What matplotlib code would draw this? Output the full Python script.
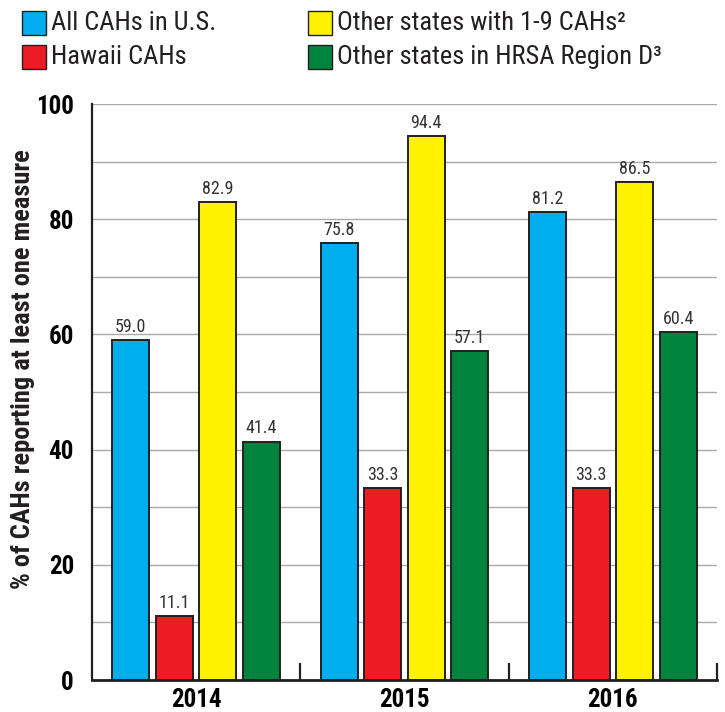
import matplotlib.pyplot as plt
from matplotlib import font_manager as fm
from matplotlib.patches import Rectangle
from matplotlib.ticker import MultipleLocator, FixedLocator
import numpy as np

# the reference uses a condensed Helvetica; take the first condensed family
# that has both a regular and a bold face installed
have = {(f.name, int(f.weight)) for f in fm.fontManager.ttflist
        if str(f.weight).isdigit()}
candidates = ['Liberation Sans Narrow', 'Roboto Condensed', 'Archivo Narrow',
              'PT Sans Narrow', 'IBM Plex Sans Condensed', 'Fira Sans Condensed',
              'Encode Sans Condensed', 'Barlow Semi Condensed', 'Saira SemiCondensed']
family = 'DejaVu Sans'
for c in candidates:
    if (c, 400) in have and (c, 700) in have:
        family = c
        break
plt.rcParams['font.family'] = [family, 'DejaVu Sans']

# data
years = ['2014', '2015', '2016']
series = ['All CAHs in U.S.', 'Hawaii CAHs',
          'Other states with 1-9 CAHs\u00b2', 'Other states in HRSA Region D\u00b3']
all_us = [59.0, 75.8, 81.2]
hawaii = [11.1, 33.3, 33.3]
other_1_9 = [82.9, 94.4, 86.5]
region_d = [41.4, 57.1, 60.4]
colors = ['#00aeef', '#ed1c24', '#fff200', '#00843d']

values = [all_us, hawaii, other_1_9, region_d]

fig = plt.figure(figsize=(7.25, 7.12), dpi=100)
ax = fig.add_axes([92/725, 1-680/712, (717-92)/725, (680-104)/712])

x = np.arange(len(years))
step = 0.209
width = 0.178
for i, (vals, col) in enumerate(zip(values, colors)):
    bars = ax.bar(x + (i-1.5)*step, vals, width, color=col, edgecolor='#231f20',
                  linewidth=1.4, zorder=3)
    ax.bar_label(bars, labels=[f'{v:.1f}' for v in vals], padding=3,
                 fontsize=13, color='#333333')

ax.set_xlim(-0.5, 2.5)
ax.set_ylim(0, 100)
ax.yaxis.set_major_locator(MultipleLocator(20))
ax.yaxis.set_minor_locator(MultipleLocator(10))
ax.grid(axis='y', which='both', color='#a7a9ac', linewidth=1, zorder=0)
ax.tick_params(axis='y', which='both', length=0, pad=13, labelsize=18)
for t in ax.get_yticklabels():
    t.set_fontweight('bold')

ax.set_xticks(x)
ax.set_xticklabels(years, fontsize=18, fontweight='bold')
ax.xaxis.set_minor_locator(FixedLocator([0.5, 1.5, 2.5]))
ax.tick_params(axis='x', which='major', length=0, pad=6)
ax.tick_params(axis='x', which='minor', direction='in', length=12, width=1.6,
               color='#231f20')

ax.spines['top'].set_visible(False)
ax.spines['right'].set_visible(False)
ax.spines['left'].set_linewidth(1.6)
ax.spines['bottom'].set_linewidth(2)
ax.spines['left'].set_color('#231f20')
ax.spines['bottom'].set_color('#231f20')

fig.text(23/725, 1-369/712, '% of CAHs reporting at least one measure',
         rotation=90, ha='center', va='center', fontsize=19, fontweight='bold',
         color='#231f20')

# legend
legend_pos = [(22, 23), (22, 57), (308, 23), (308, 57)]
for (px, py), name, col in zip(legend_pos, series, colors):
    fig.add_artist(Rectangle((px/725, 1-(py+11.5)/712), 24/725, 23/712,
                             facecolor=col, edgecolor='#231f20', linewidth=1,
                             transform=fig.transFigure))
    fig.text((px+29)/725, 1-py/712, name, ha='left', va='center',
             fontsize=19, color='#231f20')

fig.savefig('out.png', dpi=100)
